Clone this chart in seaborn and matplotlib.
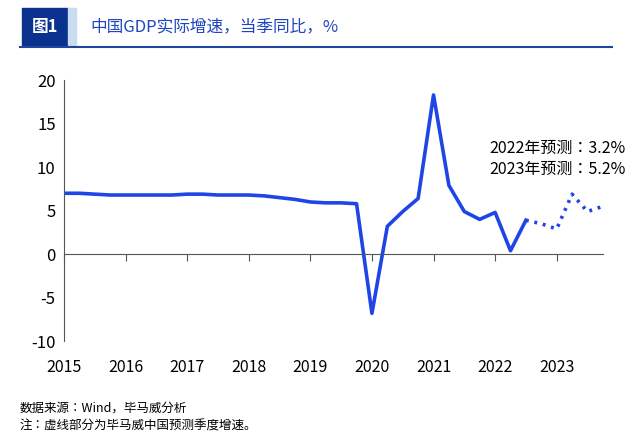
import matplotlib
matplotlib.use("Agg")
import matplotlib.pyplot as plt
import matplotlib.patches as mpatches
import numpy as np
import pandas as pd
import seaborn as sns

plt.rcParams["font.family"] = ["sans-serif"]
plt.rcParams["font.sans-serif"] = ["Noto Sans CJK SC", "Noto Sans CJK JP", "Noto Sans CJK TC",
                                   "Noto Sans CJK KR", "DejaVu Sans"]
plt.rcParams["axes.unicode_minus"] = False

# quarterly real GDP growth, 2015Q1 .. 2022Q3 (actual)
actual = [7.0, 7.0, 6.9, 6.8,
          6.8, 6.8, 6.8, 6.8,
          6.9, 6.9, 6.8, 6.8,
          6.8, 6.7, 6.5, 6.3,
          6.0, 5.9, 5.9, 5.8,
          -6.8, 3.2, 4.9, 6.4,
          18.3, 7.9, 4.9, 4.0,
          4.8, 0.4, 3.9]
# forecast 2022Q3 .. 2023Q4
forecast = [3.9, 3.5, 2.9, 6.9, 4.9, 5.5]
years = list(range(2015, 2024))

t_act = 2015 + np.arange(len(actual)) / 4
t_fc = 2022.5 + np.arange(len(forecast)) / 4
df_a = pd.DataFrame({"t": t_act, "v": actual})
df_f = pd.DataFrame({"t": t_fc, "v": forecast})

blue = "#1f45e6"
fig = plt.figure(figsize=(6.4, 4.38), dpi=100)
ax = fig.add_axes([0.1, 0.221, 0.842, 0.596])
sns.lineplot(data=df_a, x="t", y="v", ax=ax, color=blue, lw=2.6)
sns.lineplot(data=df_f, x="t", y="v", ax=ax, color=blue, lw=2.6, linestyle=(0, (0.8, 1.6)))

ax.set_xlim(2015, 2023.75)
ax.set_ylim(-10, 20)
ax.set_yticks(range(-10, 21, 5))
ax.spines[["top", "right"]].set_visible(False)
ax.spines["bottom"].set_position(("data", 0))
ax.set_xticks(years)
ax.set_xticklabels([])
ax.tick_params(axis="x", direction="out", length=5, color="#555555")
ax.tick_params(axis="y", length=0, labelsize=12, pad=6)
for y in years:
    ax.text(y, -0.1, str(y), transform=ax.get_xaxis_transform(), ha="center", va="center", fontsize=11.5)
ax.set_xlabel("")
ax.set_ylabel("")
for s in ["left", "bottom"]:
    ax.spines[s].set_color("#555555")

ax.text(2021.9, 12.2, "2022年预测：3.2%", fontsize=11.5, va="center")
ax.text(2021.9, 9.7, "2023年预测：5.2%", fontsize=11.5, va="center")

# header
fig.patches.append(mpatches.Rectangle((22/640, 1-45/438), 46/640, 37/438, transform=fig.transFigure, color="#0b318f"))
fig.patches.append(mpatches.Rectangle((68/640, 1-45/438), 8/640, 37/438, transform=fig.transFigure, color="#c9dcf0"))
fig.text(45/640, 1-27/438, "图1", color="white", fontsize=12, fontweight="bold", ha="center", va="center")
fig.text(90/640, 1-27/438, "中国GDP实际增速，当季同比，%", color="#1f45c0", fontsize=12, va="center")
fig.add_artist(plt.Line2D([20/640, 612/640], [1-47/438, 1-47/438], color="#1f45a0", lw=1.5))

fig.text(20/640, 1-408/438, "数据来源：Wind，毕马威分析", fontsize=9, va="center")
fig.text(20/640, 1-426/438, "注：虚线部分为毕马威中国预测季度增速。", fontsize=9, va="center")

fig.savefig("out.png", dpi=100)
